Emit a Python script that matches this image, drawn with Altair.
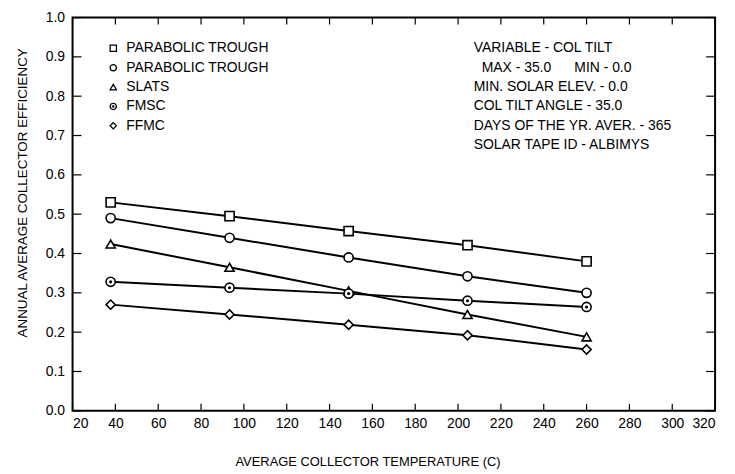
import altair as alt
import pandas as pd

# ---- data ----
temps = [37.8, 93.3, 148.9, 204.4, 260.0]
series_ids = ["pt_sq", "pt_circ", "slats", "fmsc", "ffmc"]
series_labels = ["PARABOLIC TROUGH", "PARABOLIC TROUGH", "SLATS", "FMSC", "FFMC"]
series_shapes = ["square", "circle", "triangle-up", "circle", "diamond"]
eff_pt_sq = [0.530, 0.495, 0.457, 0.421, 0.380]
eff_pt_circ = [0.490, 0.440, 0.390, 0.342, 0.300]
eff_slats = [0.424, 0.365, 0.305, 0.245, 0.188]
eff_fmsc = [0.328, 0.313, 0.298, 0.280, 0.264]
eff_ffmc = [0.270, 0.245, 0.219, 0.192, 0.156]
x_ticks = list(range(20, 321, 20))
y_ticks = [round(i * 0.1, 1) for i in range(11)]
info_lines = [
    "VARIABLE - COL TILT",
    "MAX - 35.0\u00a0\u00a0\u00a0\u00a0\u00a0\u00a0MIN - 0.0",
    "MIN. SOLAR ELEV. - 0.0",
    "COL TILT ANGLE - 35.0",
    "DAYS OF THE YR. AVER. - 365",
    "SOLAR TAPE ID - ALBIMYS",
]
info_indent = [0, 8, 0, 0, 0, 0]

FONT = "Liberation Sans"
FS = 14
W, H = 647, 396

values = [eff_pt_sq, eff_pt_circ, eff_slats, eff_fmsc, eff_ffmc]
rows = []
for sid, vals in zip(series_ids, values):
    for t, v in zip(temps, vals):
        rows.append({"sid": sid, "temp": t, "eff": v})
df = pd.DataFrame(rows)

xs = alt.Scale(domain=[20, 320], nice=False)
ys = alt.Scale(domain=[0, 1], nice=False)
shape_scale = alt.Scale(domain=series_ids, range=series_shapes)

xaxis = alt.Axis(values=x_ticks, ticks=False, domain=False, grid=False,
                 labelFont=FONT, labelFontSize=FS, labelColor="black",
                 labelOverlap=False, labelPadding=6,
                 title="AVERAGE COLLECTOR TEMPERATURE (C)",
                 titleFont=FONT, titleFontSize=13, titleFontWeight="normal",
                 titleColor="black", titleX=297, titleY=51, titleBaseline="middle")
yaxis = alt.Axis(values=y_ticks, format=".1f", ticks=False, domain=False, grid=False,
                 labelFont=FONT, labelFontSize=FS, labelColor="black",
                 labelOverlap=False, labelPadding=8,
                 title="ANNUAL AVERAGE COLLECTOR EFFICIENCY",
                 titleFont=FONT, titleFontSize=13.5, titleFontWeight="normal",
                 titleColor="black", titleX=-50, titleY=176, titleBaseline="middle")


def X(field):
    return alt.X(field, scale=xs, axis=xaxis)


def Y(field):
    return alt.Y(field, scale=ys, axis=yaxis)


base = alt.Chart(df)

lines = base.mark_line(color="black", strokeWidth=2).encode(
    x=X("temp:Q"), y=Y("eff:Q"), detail="sid:N")

points = base.mark_point(filled=True, fill="white", stroke="black", strokeWidth=1.6,
                         size=85, opacity=1).encode(
    x=X("temp:Q"), y=Y("eff:Q"),
    shape=alt.Shape("sid:N", scale=shape_scale, legend=None),
)

dots = base.transform_filter(alt.datum.sid == "fmsc").mark_point(
    filled=True, color="black", shape="circle", size=10, opacity=1).encode(
    x=X("temp:Q"), y=Y("eff:Q"))

# inward ticks
xt = pd.DataFrame({"temp": x_ticks})
yt = pd.DataFrame({"eff": y_ticks})
tick_b = alt.Chart(xt).mark_rule(color="black", strokeWidth=1.2).encode(
    x=X("temp:Q"), y=alt.value(H), y2=alt.value(H - 7))
tick_t = alt.Chart(xt).mark_rule(color="black", strokeWidth=1.2).encode(
    x=X("temp:Q"), y=alt.value(0), y2=alt.value(7))
tick_l = alt.Chart(yt).mark_rule(color="black", strokeWidth=1.2).encode(
    y=Y("eff:Q"), x=alt.value(0), x2=alt.value(9))
tick_r = alt.Chart(yt).mark_rule(color="black", strokeWidth=1.2).encode(
    y=Y("eff:Q"), x=alt.value(W), x2=alt.value(W - 9))

# custom legend
leg = pd.DataFrame({"sid": series_ids, "label": series_labels, "rank": list(range(5))})
leg_base = alt.Chart(leg).transform_calculate(py="31 + datum.rank * 19.5")
leg_sym = leg_base.mark_point(filled=True, fill="white", stroke="black", strokeWidth=1.3,
                              size=40, opacity=1).encode(
    x=alt.value(41), y=alt.Y("py:Q", scale=None),
    shape=alt.Shape("sid:N", scale=shape_scale, legend=None))
leg_dot = leg_base.transform_filter(alt.datum.sid == "fmsc").mark_point(
    filled=True, color="black", shape="circle", size=6, opacity=1).encode(
    x=alt.value(41), y=alt.Y("py:Q", scale=None))
leg_txt = leg_base.mark_text(align="left", baseline="middle", font=FONT, fontSize=FS,
                             color="black").encode(
    x=alt.value(54), y=alt.Y("py:Q", scale=None), text="label:N")

info = pd.DataFrame({"line": info_lines, "ind": info_indent, "rank": list(range(6))})
info_txt = alt.Chart(info).transform_calculate(
    py="31 + datum.rank * 19.5", px="404 + datum.ind").mark_text(
    align="left", baseline="middle", font=FONT, fontSize=FS, color="black").encode(
    x=alt.X("px:Q", scale=None), y=alt.Y("py:Q", scale=None), text="line:N")

chart = alt.layer(lines, points, dots, tick_b, tick_t, tick_l, tick_r,
                  leg_sym, leg_dot, leg_txt, info_txt).properties(
    width=W, height=H,
    autosize=alt.AutoSizeParams(type="none"),
    padding={"left": 65, "top": 8, "right": 12, "bottom": 60},
    background="white",
).configure_view(stroke="black", strokeWidth=2)

chart.save("out.html", embed_options={"renderer": "svg", "actions": False})
